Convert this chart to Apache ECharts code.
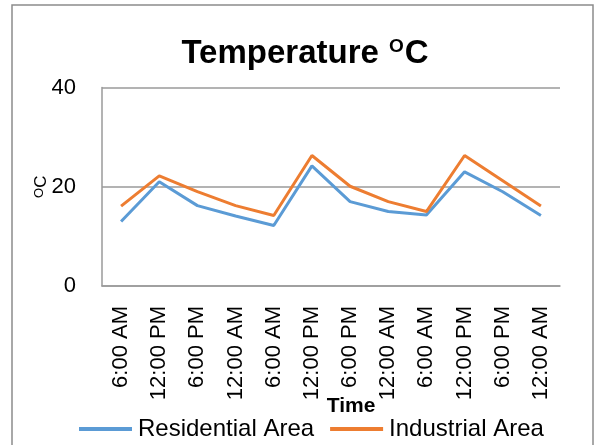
<!DOCTYPE html>
<html>
<head>
<meta charset="utf-8">
<script src="https://cdn.jsdelivr.net/npm/echarts@6/dist/echarts.min.js"></script>
<style>html,body{margin:0;padding:0;background:#fff}#c{width:595px;height:445px}</style>
</head>
<body>
<div id="c"></div>
<script>
const categories = ['6:00 AM','12:00 PM','6:00 PM','12:00 AM','6:00 AM','12:00 PM','6:00 PM','12:00 AM','6:00 AM','12:00 PM','6:00 PM','12:00 AM'];
const residential = [13, 21, 16.2, 14.1, 12.2, 24.2, 17, 15, 14.3, 23, 19, 14.2];
const industrial = [16.1, 22.2, 19, 16.2, 14.2, 26.3, 20.1, 17, 15, 26.3, 21.2, 16.1];
const yTicks = [0, 20, 40];

const font = 'Liberation Sans';
const chart = echarts.init(document.getElementById('c'), null, {renderer: 'canvas'});
chart.setOption({
  animation: false,
  backgroundColor: '#fff',
  textStyle: {fontFamily: font},
  graphic: [{
    type: 'rect', shape: {x: 12, y: 5, width: 581, height: 470},
    style: {fill: 'none', stroke: '#8c8c8c', lineWidth: 1.5}, silent: true
  }],
  title: {
    text: '{a|Temperature }{s|O}{a|C}',
    left: 300, textAlign: 'center', top: 32,
    textStyle: {
      rich: {
        a: {fontFamily: font, fontSize: 33, fontWeight: 'bold', color: '#000'},
        s: {fontFamily: font, fontSize: 19, fontWeight: 'bold', color: '#000', verticalAlign: 'top', padding: [0, 1, 12, 1]}
      }
    }
  },
  legend: {
    bottom: -1, left: 74,
    itemWidth: 53, itemHeight: 4, itemGap: 16,
    icon: 'rect',
    textStyle: {fontFamily: font, fontSize: 24, color: '#000', padding: [0, 0, 0, 1]},
    data: ['Residential Area', 'Industrial Area']
  },
  grid: {left: 102, right: 35, top: 87.5, bottom: 159, containLabel: false},
  xAxis: {
    type: 'category', data: categories, boundaryGap: true,
    axisLine: {lineStyle: {color: '#9a9a9a', width: 1.5}},
    axisTick: {show: false},
    axisLabel: {rotate: 90, fontSize: 22, color: '#000', margin: 20, fontFamily: font, interval: 0},
    name: 'Time', nameLocation: 'middle', nameGap: 110, nameMoveOverlap: false,
    nameTextStyle: {fontSize: 21, fontWeight: 'bold', color: '#000', fontFamily: font, padding: [0, 0, 0, 40]}
  },
  yAxis: {
    type: 'value', min: yTicks[0], max: yTicks[yTicks.length - 1], interval: 20,
    axisLine: {show: true, lineStyle: {color: '#9a9a9a', width: 1.5}},
    axisTick: {show: false},
    splitLine: {show: true, lineStyle: {color: '#9a9a9a', width: 1.5}},
    axisLabel: {fontSize: 22, color: '#000', margin: 26, fontFamily: font},
    name: '{s|O}{n|C}', nameLocation: 'middle', nameGap: 52, nameRotate: 90, nameMoveOverlap: false,
    nameTextStyle: {
      rich: {
        n: {fontSize: 17, color: '#000', fontFamily: font},
        s: {fontSize: 13, color: '#000', fontFamily: font, verticalAlign: 'top', padding: [0, 0, 4, 0]}
      }
    }
  },
  series: [
    {name: 'Residential Area', type: 'line', data: residential, symbol: 'none',
     lineStyle: {color: '#5B9BD5', width: 3}, itemStyle: {color: '#5B9BD5'}},
    {name: 'Industrial Area', type: 'line', data: industrial, symbol: 'none',
     lineStyle: {color: '#ED7D31', width: 3}, itemStyle: {color: '#ED7D31'}}
  ]
});
</script>
</body>
</html>
